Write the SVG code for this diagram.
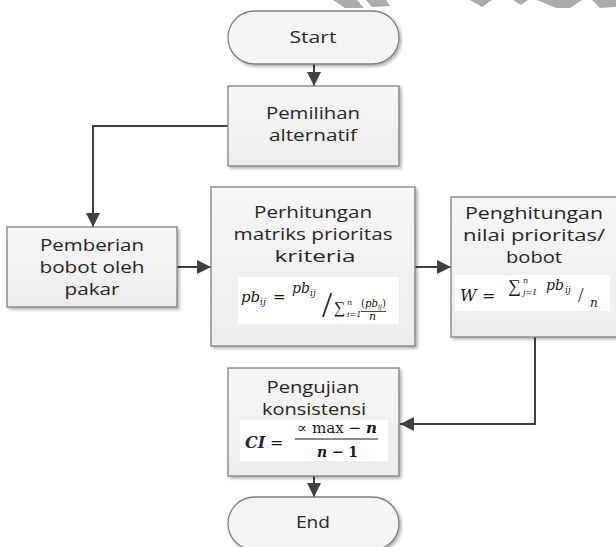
<svg xmlns="http://www.w3.org/2000/svg" width="616" height="547" viewBox="0 0 616 547">
<defs>
<linearGradient id="g" x1="0" y1="0" x2="0" y2="1">
<stop offset="0" stop-color="#f6f6f6"/>
<stop offset="1" stop-color="#ececec"/>
</linearGradient>
<filter id="sh" x="-10%" y="-10%" width="125%" height="130%">
<feDropShadow dx="2" dy="2" stdDeviation="1.5" flood-color="#000" flood-opacity="0.3"/>
</filter>
<marker id="ah" markerUnits="userSpaceOnUse" markerWidth="16" markerHeight="16" viewBox="0 0 16 16" refX="14" refY="8" orient="auto">
<path d="M0,1 L14,8 L0,15 z" fill="#404040"/>
</marker>
</defs>
<style>
.box{fill:url(#g);stroke:#808080;stroke-width:1.3;filter:url(#sh)}
.term{fill:#f4f4f4;stroke:#808080;stroke-width:1.3;filter:url(#sh)}
.lbl{font-family:"Open Sans","Liberation Sans",sans-serif;font-size:16px;fill:#262626;text-anchor:middle}
.fw{fill:#ffffff}
.m{font-family:"DejaVu Serif","Liberation Serif",serif;font-style:italic;fill:#1a1a1a}
.u{font-family:"DejaVu Serif","Liberation Serif",serif;font-style:normal;fill:#1a1a1a}
.s{font-family:"Liberation Serif","DejaVu Serif",serif;font-style:normal;fill:#1a1a1a}
.conn{fill:none;stroke:#404040;stroke-width:2;marker-end:url(#ah)}
.wm{fill:#ababab}
</style>

<g id="watermark">
<polygon class="wm" points="333,0 357,0 364,8 345,8"/>
<polygon class="wm" points="366,0 386,0 390,6 372,7"/>
<polygon class="wm" points="470,0 492,0 482,7"/>
<polygon class="wm" points="513,0 528,0 521,5"/>
<polygon class="wm" points="537,0 582,0 570,8 556,8"/>
<polygon class="wm" points="592,0 616,0 616,7 600,8"/>
</g>

<g id="connectors">
<path class="conn" d="M314,64 V86"/>
<path class="conn" d="M228,126 H93 V227"/>
<path class="conn" d="M177,267 H211"/>
<path class="conn" d="M415,267 H451"/>
<path class="conn" d="M535,337 V424 H400"/>
<path class="conn" d="M314,476 V497"/>
</g>

<g id="start">
<rect class="term" x="228" y="11" width="171" height="53" rx="26.5"/>
<text class="lbl" x="313" y="43" textLength="47" lengthAdjust="spacingAndGlyphs">Start</text>
</g>

<g id="pemilihan">
<rect class="box" x="228" y="86" width="171" height="80"/>
<text class="lbl" x="313" y="119" textLength="94" lengthAdjust="spacingAndGlyphs">Pemilihan</text>
<text class="lbl" x="313" y="141" textLength="88" lengthAdjust="spacingAndGlyphs">alternatif</text>
</g>

<g id="pemberian">
<rect class="box" x="7" y="227" width="170" height="80"/>
<text class="lbl" x="92" y="251" textLength="104" lengthAdjust="spacingAndGlyphs">Pemberian</text>
<text class="lbl" x="92" y="273" textLength="105" lengthAdjust="spacingAndGlyphs">bobot oleh</text>
<text class="lbl" x="92" y="295" textLength="55" lengthAdjust="spacingAndGlyphs">pakar</text>
</g>

<g id="perhitungan">
<rect class="box" x="211" y="187" width="204" height="159"/>
<text class="lbl" x="313" y="218" textLength="118" lengthAdjust="spacingAndGlyphs">Perhitungan</text>
<text class="lbl" x="313" y="240" textLength="159" lengthAdjust="spacingAndGlyphs">matriks prioritas</text>
<text class="lbl" x="315" y="262" textLength="81" lengthAdjust="spacingAndGlyphs">kriteria</text>
<rect class="fw" x="238" y="277" width="161" height="47"/>
<text class="m" font-size="15" x="241" y="302">pb</text>
<text class="m" font-size="9" x="260" y="305">ij</text>
<text class="u" font-size="15" x="273" y="302">=</text>
<text class="m" font-size="14" x="292" y="293">pb</text>
<text class="m" font-size="9" x="310" y="296">ij</text>
<text class="s" font-size="36" x="322" y="317">/</text>
<text class="s" font-size="16" x="334" y="313">∑</text>
<text class="m" font-size="8" x="347" y="305">n</text>
<text class="m" font-size="8" x="347" y="317">i=1</text>
<text class="u" font-size="11" x="361" y="307" textLength="25" lengthAdjust="spacingAndGlyphs">(<tspan class="m">pb</tspan><tspan class="m" font-size="7" dy="2">ij</tspan><tspan dy="-2">)</tspan></text>
<rect x="361" y="311" width="25" height="0.8" fill="#1a1a1a"/>
<text class="m" font-size="11" x="369" y="320">n</text>
</g>

<g id="penghitungan">
<rect class="box" x="451" y="197" width="170" height="140"/>
<text class="lbl" x="534" y="219" textLength="138" lengthAdjust="spacingAndGlyphs">Penghitungan</text>
<text class="lbl" x="534" y="241" textLength="142" lengthAdjust="spacingAndGlyphs">nilai prioritas/</text>
<text class="lbl" x="534" y="263" textLength="56" lengthAdjust="spacingAndGlyphs">bobot</text>
<rect class="fw" x="455" y="275" width="155" height="36"/>
<text class="m" font-size="16" x="460" y="301">W</text>
<text class="u" font-size="16" x="482" y="301">=</text>
<text class="s" font-size="18" x="508" y="292">∑</text>
<text class="m" font-size="8" x="523" y="283">n</text>
<text class="m" font-size="8" x="523" y="295">j=1</text>
<text class="m" font-size="14" x="546" y="290">pb</text>
<text class="m" font-size="9" x="565" y="293">ij</text>
<text class="s" font-size="20" x="578" y="302">/</text>
<text class="m" font-size="12" x="590" y="307">n</text>
</g>

<g id="pengujian">
<rect class="box" x="228" y="368" width="171" height="108"/>
<text class="lbl" x="313" y="393" textLength="93" lengthAdjust="spacingAndGlyphs">Pengujian</text>
<text class="lbl" x="314" y="415" textLength="104" lengthAdjust="spacingAndGlyphs">konsistensi</text>
<rect class="fw" x="240" y="420" width="148" height="41"/>
<text class="m" font-size="16" font-weight="bold" x="245" y="448" style="fill:#1c2a4a">CI</text>
<text class="u" font-size="16" x="270" y="448">=</text>
<text class="u" font-size="15" x="297" y="433" textLength="80" lengthAdjust="spacingAndGlyphs">∝ max − <tspan class="m" font-weight="bold">n</tspan></text>
<rect x="295" y="438.5" width="83" height="1" fill="#1a1a1a"/>
<text class="u" font-size="15" font-weight="bold" x="317" y="457" textLength="41" lengthAdjust="spacingAndGlyphs"><tspan class="m">n</tspan> − 1</text>
</g>

<g id="end">
<rect class="term" x="228" y="497" width="171" height="53" rx="26.5"/>
<text class="lbl" x="313" y="528" textLength="34" lengthAdjust="spacingAndGlyphs">End</text>
</g>
</svg>
